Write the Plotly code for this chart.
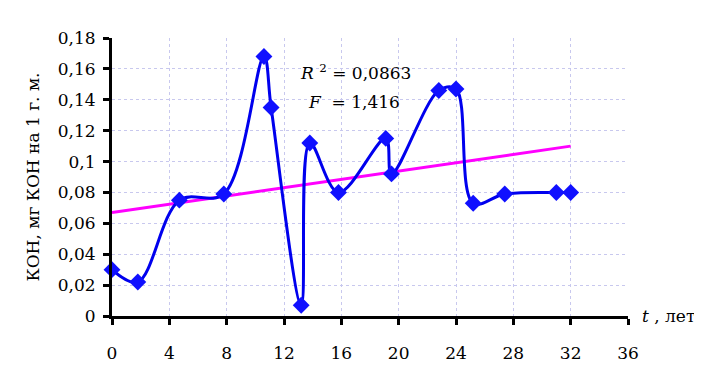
import plotly.graph_objects as go

# Data
t_years = [0, 1.8, 4.7, 7.8, 10.6, 11.1, 13.2, 13.8, 15.8, 19.1, 19.5, 22.8, 24.0, 25.2, 27.4, 31.0, 32.0]
koh = [0.030, 0.022, 0.075, 0.079, 0.168, 0.135, 0.007, 0.112, 0.080, 0.115, 0.092, 0.146, 0.147, 0.073, 0.079, 0.080, 0.080]

trend_t = [0, 32]
trend_koh = [0.067, 0.110]

x_ticks = [0, 4, 8, 12, 16, 20, 24, 28, 32, 36]
y_ticks = [0, 0.02, 0.04, 0.06, 0.08, 0.10, 0.12, 0.14, 0.16, 0.18]
y_tick_labels = ["0", "0,02", "0,04", "0,06", "0,08", "0,1", "0,12", "0,14", "0,16", "0,18"]

FONT = "DejaVu Serif"
FS = 17

fig = go.Figure()
fig.add_trace(go.Scatter(
    x=trend_t, y=trend_koh, mode="lines",
    line=dict(color="#ff00ff", width=3), showlegend=False, hoverinfo="skip",
))
fig.add_trace(go.Scatter(
    x=t_years, y=koh, mode="lines+markers",
    line=dict(color="#0000ee", width=3, shape="spline", smoothing=1.0),
    marker=dict(symbol="diamond", size=13, color="#1010ff"),
    cliponaxis=False, showlegend=False,
))

fig.update_layout(
    width=702, height=376,
    margin=dict(l=104, r=82, t=30, b=68),
    paper_bgcolor="white", plot_bgcolor="white",
    font=dict(family=FONT, size=FS, color="black"),
    xaxis=dict(
        range=[0, 36], tickvals=x_ticks, ticktext=[str(v) for v in x_ticks],
        showline=True, linecolor="black", linewidth=3,
        ticks="outside", ticklen=6, tickwidth=3, tickcolor="black",
        showgrid=True, gridcolor="#c8c8ee", griddash="dot", gridwidth=1,
        zeroline=False, ticklabelstandoff=14,
        tickfont=dict(family=FONT, size=FS),
    ),
    yaxis=dict(
        range=[0, 0.18], tickvals=y_ticks, ticktext=y_tick_labels,
        showline=True, linecolor="black", linewidth=3,
        ticks="outside", ticklen=6, tickwidth=3, tickcolor="black",
        showgrid=True, gridcolor="#c8c8ee", griddash="dot", gridwidth=1,
        zeroline=False, ticklabelstandoff=4,
        title=dict(text="КОН, мг КОН на 1 г. м.", font=dict(family=FONT, size=FS), standoff=14),
        tickfont=dict(family=FONT, size=FS),
    ),
    annotations=[
        dict(xref="paper", yref="paper", x=1.0, y=0, xanchor="left", yanchor="middle",
             xshift=12, text="<i>t</i> , лет", showarrow=False, font=dict(family=FONT, size=FS)),
        dict(xref="x", yref="y", x=17.0, y=0.158, xanchor="center", yanchor="middle",
             text="<i>R</i> <sup>2</sup> = 0,0863", showarrow=False, font=dict(family=FONT, size=FS)),
        dict(xref="x", yref="y", x=16.9, y=0.1386, xanchor="center", yanchor="middle",
             text="<i>F</i>  = 1,416", showarrow=False, font=dict(family=FONT, size=FS)),
    ],
)

fig.write_html("out.html")
